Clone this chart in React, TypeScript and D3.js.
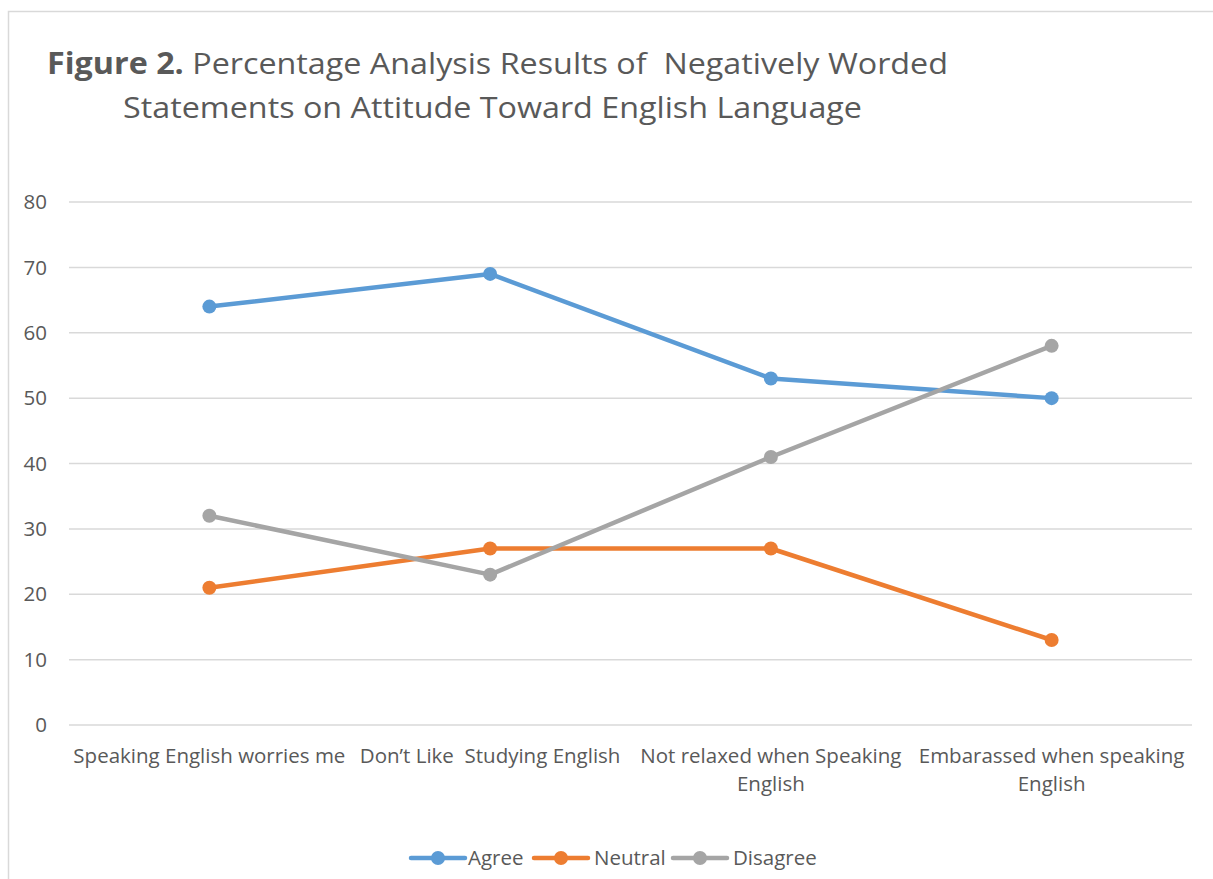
import React from 'react';
import * as d3 from 'd3';

const categories = [
  'Speaking English worries me',
  'Don\u2019t Like  Studying English',
  'Not relaxed when Speaking English',
  'Embarassed when speaking English',
];
// wrapped tick labels as shown on the chart
const categoryLines = [
  ['Speaking English worries me'],
  ['Don\u2019t Like  Studying English'],
  ['Not relaxed when Speaking', 'English'],
  ['Embarassed when speaking', 'English'],
];
const agree = [64, 69, 53, 50];
const neutral = [21, 27, 27, 13];
const disagree = [32, 23, 41, 58];
const yTicks = [0, 10, 20, 30, 40, 50, 60, 70, 80];

const series = [
  { name: 'Agree', values: agree, color: '#5B9BD5' },
  { name: 'Neutral', values: neutral, color: '#ED7D31' },
  { name: 'Disagree', values: disagree, color: '#A5A5A5' },
];

const W = 1213;
const H = 879;
const font = '"Open Sans", sans-serif';
const textColor = '#595959';
const labelSize = 20.5;

const App: React.FC = () => {
  const x = d3.scaleBand<string>().domain(categories).range([69, 1192]).padding(0);
  const y = d3.scaleLinear().domain([0, 80]).range([725, 202]);
  const cx = (c: string) => (x(c) ?? 0) + x.bandwidth() / 2;

  const line = d3.line<number>()
    .x((_, i) => cx(categories[i]))
    .y(d => y(d));

  // legend layout
  const legend = [
    { x1: 411, tx: 468 },
    { x1: 534, tx: 594 },
    { x1: 673, tx: 733 },
  ];

  return (
    <svg width={W} height={H} style={{ position: 'absolute', left: 0, top: 0, background: '#fff' }}
      fontFamily={font}>
      <rect x={8.5} y={11.5} width={W + 10} height={H + 10} fill="#fff" stroke="#d9d9d9" strokeWidth={1.5} />

      {/* Title */}
      <text x={47} y={74} fontSize={30} fill={textColor} textLength={901} lengthAdjust="spacingAndGlyphs"
        style={{ whiteSpace: 'pre' }}>
        <tspan fontWeight="bold">Figure 2.</tspan>
        <tspan> Percentage Analysis Results of  Negatively Worded</tspan>
      </text>
      <text x={123} y={118} fontSize={30} fill={textColor} textLength={739} lengthAdjust="spacingAndGlyphs">
        Statements on Attitude Toward English Language
      </text>

      {/* Gridlines + y ticks */}
      {yTicks.map(t => (
        <g key={t}>
          <line x1={69} x2={1192} y1={y(t)} y2={y(t)} stroke="#d9d9d9" strokeWidth={1.5} />
          <text x={47} y={y(t)} dy="0.35em" textAnchor="end" fontSize={labelSize} fill={textColor}>{t}</text>
        </g>
      ))}

      {/* Category labels */}
      {categories.map((c, i) => (
        <text key={c} x={cx(c)} y={763} textAnchor="middle" fontSize={labelSize} fill={textColor}
          style={{ whiteSpace: 'pre' }}>
          {categoryLines[i].map((l, j) => (
            <tspan key={j} x={cx(c)} dy={j === 0 ? 0 : 28}>{l}</tspan>
          ))}
        </text>
      ))}

      {/* Series */}
      {series.map(s => (
        <g key={s.name}>
          <path d={line(s.values) ?? ''} fill="none" stroke={s.color} strokeWidth={4.5} strokeLinejoin="round" strokeLinecap="round" />
          {s.values.map((v, i) => (
            <circle key={i} cx={cx(categories[i])} cy={y(v)} r={7} fill={s.color} />
          ))}
        </g>
      ))}

      {/* Legend */}
      {series.map((s, i) => (
        <g key={s.name}>
          <line x1={legend[i].x1} x2={legend[i].x1 + 54} y1={858} y2={858} stroke={s.color} strokeWidth={4.5} strokeLinecap="round" />
          <circle cx={legend[i].x1 + 27} cy={858} r={7} fill={s.color} />
          <text x={legend[i].tx} y={858} dy="0.35em" fontSize={labelSize} fill={textColor}>{s.name}</text>
        </g>
      ))}
    </svg>
  );
};

export default App;
